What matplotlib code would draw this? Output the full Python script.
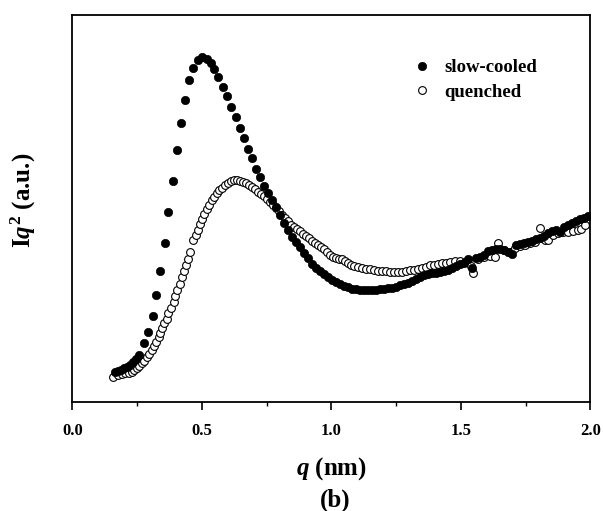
import numpy as np
import matplotlib
matplotlib.use('Agg')
import matplotlib.pyplot as plt

# Fonts: bold Times-like serif everywhere
plt.rcParams['font.family'] = ['Liberation Serif', 'DejaVu Serif']
plt.rcParams['font.weight'] = 'bold'
plt.rcParams['mathtext.fontset'] = 'custom'
plt.rcParams['mathtext.rm'] = 'Liberation Serif:bold'
plt.rcParams['mathtext.it'] = 'Liberation Serif:bold:italic'
plt.rcParams['mathtext.bf'] = 'Liberation Serif:bold'

# Data (q in nm, intensity in arbitrary units)
q_slow = [0.165, 0.176, 0.188, 0.200, 0.211, 0.223, 0.234, 0.246, 0.258, 0.278,
          0.292, 0.310, 0.325, 0.340, 0.358, 0.371, 0.387, 0.403, 0.418, 0.436,
          0.452, 0.467, 0.484, 0.502, 0.519, 0.534, 0.548, 0.564, 0.581, 0.596,
          0.611, 0.631, 0.647, 0.663, 0.679, 0.694,
          0.709, 0.725, 0.740, 0.755, 0.771, 0.786, 0.802, 0.817, 0.833, 0.848,
          0.864, 0.879, 0.894, 0.910, 0.925, 0.941, 0.956, 0.972, 0.987, 1.003,
          1.018, 1.033, 1.049, 1.064, 1.080, 1.095, 1.111, 1.126, 1.141, 1.157,
          1.172, 1.188, 1.203, 1.219, 1.234, 1.250, 1.265, 1.280, 1.296, 1.311,
          1.327, 1.342, 1.358, 1.373, 1.388, 1.404, 1.419, 1.435, 1.450, 1.466,
          1.481, 1.497, 1.512, 1.528, 1.543, 1.558, 1.574, 1.589, 1.605, 1.620,
          1.636, 1.651, 1.667, 1.682, 1.698, 1.713, 1.728, 1.744, 1.759, 1.775,
          1.790, 1.806, 1.821, 1.836, 1.852, 1.867, 1.883, 1.898, 1.914, 1.929,
          1.944, 1.960, 1.975, 1.991]
I_slow = [0.300, 0.315, 0.325, 0.340, 0.355, 0.375, 0.400, 0.430, 0.470, 0.590,
          0.700, 0.865, 1.070, 1.310, 1.595, 1.900, 2.210, 2.525, 2.795, 3.020,
          3.220, 3.343, 3.420, 3.447, 3.430, 3.393, 3.327, 3.253, 3.147, 3.063,
          2.953, 2.853, 2.740, 2.640, 2.530, 2.440,
          2.330, 2.250, 2.160, 2.090, 2.020, 1.950, 1.870, 1.790, 1.720, 1.655,
          1.605, 1.550, 1.490, 1.440, 1.385, 1.345, 1.310, 1.280, 1.250, 1.225,
          1.205, 1.185, 1.165, 1.150, 1.135, 1.130, 1.125, 1.120, 1.120, 1.120,
          1.125, 1.130, 1.135, 1.140, 1.145, 1.155, 1.170, 1.180, 1.195, 1.215,
          1.235, 1.253, 1.270, 1.280, 1.290, 1.295, 1.305, 1.315, 1.325, 1.340,
          1.365, 1.380, 1.395, 1.430, 1.340, 1.440, 1.455, 1.475, 1.510, 1.525,
          1.530, 1.535, 1.525, 1.505, 1.485, 1.570, 1.585, 1.590, 1.605, 1.615,
          1.630, 1.645, 1.665, 1.690, 1.715, 1.725, 1.705, 1.750, 1.775, 1.795,
          1.815, 1.830, 1.845, 1.860]

q_quench = [0.158, 0.178, 0.192, 0.203, 0.217, 0.229, 0.238, 0.249, 0.257, 0.268,
            0.277, 0.287, 0.296, 0.307, 0.315, 0.325, 0.333, 0.340, 0.348, 0.356,
            0.364, 0.371, 0.381, 0.391, 0.398, 0.406, 0.414, 0.422, 0.430, 0.439,
            0.448, 0.456, 0.467, 0.476, 0.484, 0.493, 0.502, 0.510, 0.519, 0.528,
            0.538, 0.547, 0.557, 0.568, 0.578, 0.589, 0.601, 0.613, 0.624, 0.636,
            0.647, 0.659, 0.670, 0.682, 0.694, 0.705, 0.717, 0.728, 0.740, 0.752,
            0.763, 0.775, 0.786, 0.798, 0.809, 0.821, 0.833, 0.844, 0.856, 0.867,
            0.879, 0.891, 0.902, 0.914, 0.925, 0.937, 0.948, 0.960, 0.971, 0.983,
            0.995, 1.006, 1.018, 1.030, 1.041, 1.053, 1.064, 1.076, 1.087, 1.103,
            1.118, 1.134, 1.149, 1.164, 1.180, 1.196, 1.211, 1.226, 1.242, 1.257,
            1.273, 1.288, 1.304, 1.319, 1.334, 1.350, 1.365, 1.381, 1.396, 1.412,
            1.427, 1.442, 1.458, 1.477, 1.497, 1.516, 1.539, 1.548, 1.566, 1.589,
            1.612, 1.632, 1.644, 1.667, 1.690, 1.709, 1.728, 1.747, 1.767, 1.786,
            1.805, 1.825, 1.838, 1.856, 1.875, 1.894, 1.914, 1.934, 1.952, 1.966,
            1.979]
I_quench = [0.253, 0.270, 0.280, 0.287, 0.295, 0.305, 0.320, 0.337, 0.360, 0.387,
            0.415, 0.453, 0.485, 0.520, 0.560, 0.605, 0.650, 0.695, 0.740, 0.787,
            0.835, 0.887, 0.945, 1.003, 1.060, 1.120, 1.185, 1.250, 1.310, 1.370,
            1.435, 1.503, 1.620, 1.670, 1.725, 1.780, 1.830, 1.880, 1.930, 1.970,
            2.020, 2.055, 2.087, 2.120, 2.145, 2.175, 2.195, 2.210, 2.220, 2.225,
            2.215, 2.203, 2.190, 2.170, 2.155, 2.130, 2.105, 2.082, 2.060, 2.035,
            2.005, 1.975, 1.945, 1.910, 1.875, 1.840, 1.810, 1.775, 1.750, 1.730,
            1.710, 1.685, 1.660, 1.640, 1.615, 1.595, 1.575, 1.550, 1.530, 1.500,
            1.475, 1.455, 1.440, 1.430, 1.430, 1.410, 1.390, 1.375, 1.360, 1.350,
            1.340, 1.335, 1.330, 1.320, 1.315, 1.310, 1.308, 1.305, 1.305, 1.305,
            1.305, 1.310, 1.320, 1.325, 1.335, 1.345, 1.355, 1.370, 1.375, 1.385,
            1.390, 1.395, 1.400, 1.410, 1.415, 1.400, 1.360, 1.290, 1.430, 1.450,
            1.460, 1.450, 1.587, 1.520, 1.500, 1.540, 1.560, 1.575, 1.590, 1.605,
            1.737, 1.620, 1.620, 1.670, 1.695, 1.700, 1.705, 1.713, 1.720, 1.727,
            1.770]

fig = plt.figure(figsize=(6.03, 5.11), dpi=100)
ax = fig.add_axes([0.1199, 0.2133, 0.859, 0.757])

# quenched drawn first so the filled points sit on top
ax.plot(q_quench, I_quench, 'o', ms=5.6, mfc='white', mec='black', mew=0.8,
        label='quenched', zorder=2)
ax.plot(q_slow, I_slow, 'o', ms=6.0, mfc='black', mec='black', mew=0.5,
        label='slow-cooled', zorder=3)

ax.set_xlim(0.0, 2.0)
ax.set_ylim(0.0, 3.87)
ax.set_xticks([0.0, 0.5, 1.0, 1.5, 2.0])
ax.set_xticklabels(['0.0', '0.5', '1.0', '1.5', '2.0'])
ax.set_xticks(np.arange(0.25, 2.0, 0.5), minor=True)
ax.set_yticks([])
ax.tick_params(axis='x', which='major', direction='out', length=6, width=1.2,
               labelsize=12, pad=9)
ax.tick_params(axis='x', which='minor', direction='out', length=3, width=1.0)
for sp in ax.spines.values():
    sp.set_linewidth(1.3)

ax.set_xlabel(r'$\mathit{q}$ (nm)', fontsize=18, fontweight='bold', labelpad=12)
ax.set_ylabel(r'I$\mathit{q}^{2}$ (a.u.)', fontsize=18, fontweight='bold')
ax.yaxis.set_label_coords(-0.066, 0.52)
fig.text(335 / 603, 1 - 500 / 511, '(b)', fontsize=18, fontweight='bold',
         ha='center', va='center')

# legend: slow-cooled on top, no frame
handles, labels = ax.get_legend_handles_labels()
ax.legend(handles[::-1], labels[::-1], loc='upper left',
          bbox_to_anchor=(0.62, 0.93), frameon=False,
          handletextpad=0.6, labelspacing=0.4, handlelength=1.2,
          prop={'weight': 'bold', 'size': 13.5})

fig.savefig('out.png', dpi=100)
